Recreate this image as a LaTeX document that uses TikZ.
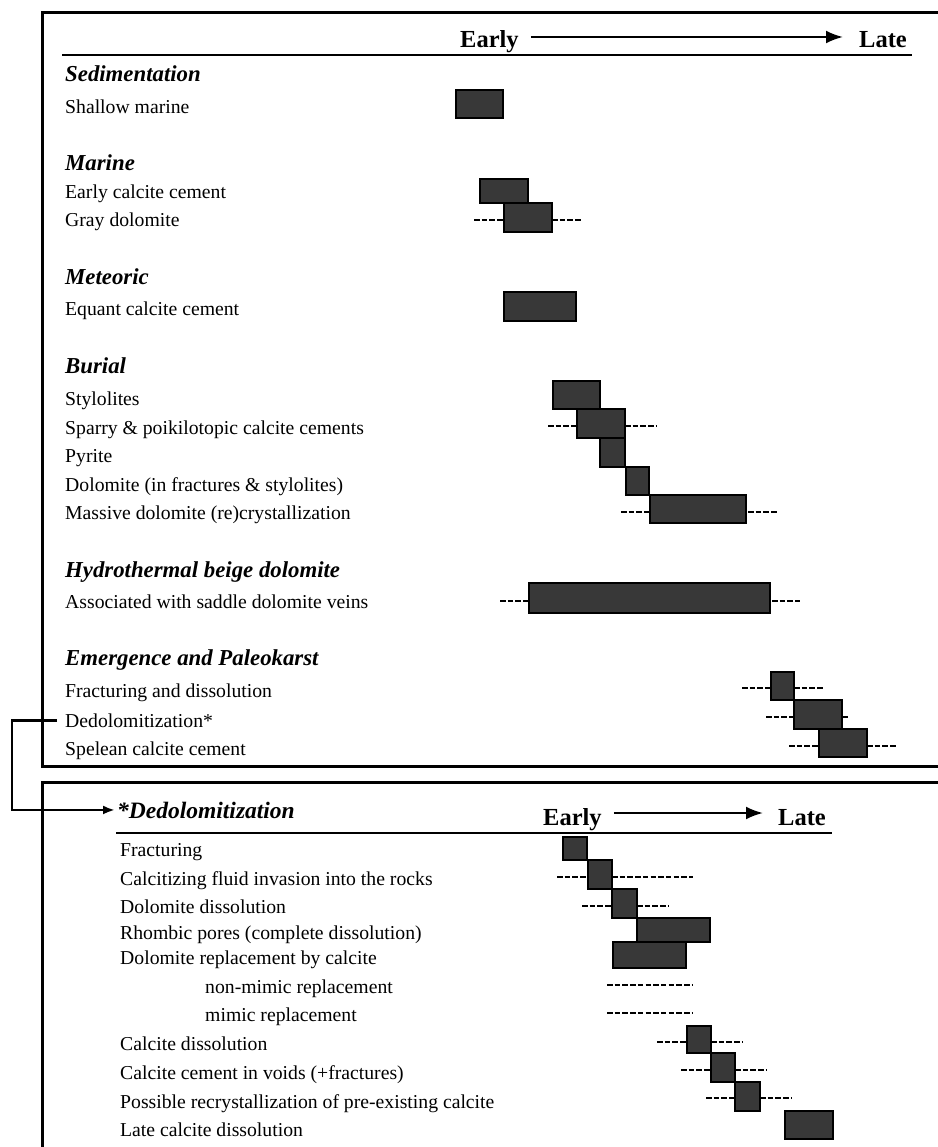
\documentclass[tikz,border=0pt]{standalone}
\usepackage{fontspec}
\setmainfont{Liberation Serif}
\usetikzlibrary{arrows.meta, positioning}
\definecolor{barGray}{RGB}{56,56,56}

\begin{document}
\begin{tikzpicture}[
    x=1pt, y=-1pt,
    lbl/.style      = {anchor=base west, inner sep=0pt,
                       font=\fontsize{19.7}{22}\selectfont},
    head/.style     = {anchor=base west, inner sep=0pt,
                       font=\fontsize{22.8}{26}\selectfont\bfseries\itshape},
    timeword/.style = {anchor=base west, inner sep=0pt,
                       font=\fontsize{24.5}{28}\selectfont\bfseries},
    panel/.style    = {draw=black, line width=3pt},
    rule/.style     = {draw=black, line width=1.4pt},
    phase/.style    = {draw=black, fill=barGray, line width=1.3pt},
    trend/.style    = {draw=black, line width=2.2pt, dash pattern=on 5.5pt off 2.2pt},
    timeflow/.style = {-{Latex[length=17pt,width=13pt]}, line width=2.3pt},
    link/.style     = {-{Latex[length=12pt,width=9pt]}, line width=2.6pt}
]
\useasboundingbox (0,0) rectangle (937,1147);

% Frames of the two panels (they run off the right / bottom edge)
\draw[panel] (42,13) rectangle (980,766);
\draw[panel] (42,782) rectangle (980,1190);

% Time axis of the upper panel
\node[timeword] (early) at (460,48) {Early};
\node[timeword] (late)  at (859,48) {Late};
\draw[timeflow] ([shift={(12,-11)}]early.base east) -- ([shift={(-16,-11)}]late.base west);
\draw[rule] (62,55) -- (912,55);

% Upper panel: stages and events
\node[head] (sed)    at (65,82)  {Sedimentation};
\node[lbl]  (shal)   at (65,114) {Shallow marine};
\node[head] (mar)    at (65,171) {Marine};
\node[lbl]  (ecc)    at (65,199) {Early calcite cement};
\node[lbl]  (gray)   at (65,227) {Gray dolomite};
\node[head] (met)    at (65,284) {Meteoric};
\node[lbl]  (equ)    at (65,316) {Equant calcite cement};
\node[head] (bur)    at (65,373) {Burial};
\node[lbl]  (sty)    at (65,405) {Stylolites};
\node[lbl]  (spar)   at (65,434) {Sparry \& poikilotopic calcite cements};
\node[lbl]  (pyr)    at (65,462) {Pyrite};
\node[lbl]  (dolf)   at (65,491) {Dolomite (in fractures \& stylolites)};
\node[lbl]  (mass)   at (65,519) {Massive dolomite (re)crystallization};
\node[head] (hyd)    at (65,577) {Hydrothermal beige dolomite};
\node[lbl]  (sadd)   at (65,608) {Associated with saddle dolomite veins};
\node[head] (emer)   at (65,665) {Emergence and Paleokarst};
\node[lbl]  (frac)   at (65,697) {Fracturing and dissolution};
\node[lbl]  (dedo)   at (65,727) {Dedolomitization*};
\node[lbl]  (spel)   at (65,755) {Spelean calcite cement};

% Upper panel: bars
\draw[phase] (456,90)  rectangle (503,118);
\draw[phase] (480,179) rectangle (528,203);
\draw[phase] (504,203) rectangle (552,232);
\draw[trend] (474,220) -- (504,220);
\draw[trend] (552,220) -- (582,220);
\draw[phase] (504,292) rectangle (576,321);
\draw[phase] (553,381) rectangle (600,409);
\draw[phase] (577,409) rectangle (625,438);
\draw[trend] (548,426) -- (577,426);
\draw[trend] (625,426) -- (656,426);
\draw[phase] (600,438) rectangle (625,467);
\draw[phase] (626,467) rectangle (649,495);
\draw[phase] (650,495) rectangle (746,523);
\draw[trend] (621,512) -- (650,512);
\draw[trend] (748,512) -- (777,512);
\draw[phase] (529,583) rectangle (770,613);
\draw[trend] (500,601) -- (529,601);
\draw[trend] (772,601) -- (800,601);
\draw[phase] (771,672) rectangle (794,700);
\draw[trend] (742,688) -- (771,688);
\draw[trend] (794,688) -- (824,688);
\draw[phase] (794,700) rectangle (842,729);
\draw[trend] (766,717) -- (794,717);
\draw[trend] (842,717) -- (849,717);
\draw[phase] (819,729) rectangle (867,757);
\draw[trend] (789,746) -- (819,746);
\draw[trend] (867,746) -- (897,746);

% Lower panel: detail of the dedolomitization
\node[head, font=\fontsize{23.5}{26}\selectfont\bfseries\itshape] (dedoHead) at (117,818) {*Dedolomitization};
\node[timeword] (early2) at (543,825) {Early};
\node[timeword] (late2)  at (778,825) {Late};
\draw[timeflow] ([shift={(12,-12)}]early2.base east) -- ([shift={(-15,-12)}]late2.base west);
\draw[rule] (116,833) -- (832,833);

\draw[link] ([xshift=-8pt]dedo.west) -- ++(-45,0) |- ([xshift=-2pt]dedoHead.west);

\node[lbl] (dfrac)  at (120,856)  {Fracturing};
\node[lbl] (dinv)   at (120,885)  {Calcitizing fluid invasion into the rocks};
\node[lbl] (ddis)   at (120,913)  {Dolomite dissolution};
\node[lbl] (drho)   at (120,939)  {Rhombic pores (complete dissolution)};
\node[lbl] (drep)   at (120,964)  {Dolomite replacement by calcite};
\node[lbl] (dnon)   at (205,993)  {non-mimic replacement};
\node[lbl] (dmim)   at (205,1021) {mimic replacement};
\node[lbl] (dcdis)  at (120,1050) {Calcite dissolution};
\node[lbl] (dcem)   at (120,1079) {Calcite cement in voids (+fractures)};
\node[lbl] (drecr)  at (120,1108) {Possible recrystallization of pre-existing calcite};
\node[lbl] (dlate)  at (120,1136) {Late calcite dissolution};

% Lower panel: bars
\draw[phase] (563,837)  rectangle (587,860);
\draw[phase] (588,860)  rectangle (612,889);
\draw[trend] (557,877) -- (588,877);
\draw[trend] (612,877) -- (693,877);
\draw[phase] (612,889)  rectangle (637,918);
\draw[trend] (582,906) -- (612,906);
\draw[trend] (637,906) -- (668,906);
\draw[phase] (637,918)  rectangle (710,942);
\draw[phase] (613,942)  rectangle (686,968);
\draw[trend] (607,985) -- (693,985);
\draw[trend] (607,1013) -- (693,1013);
\draw[phase] (687,1026) rectangle (711,1053);
\draw[trend] (657,1042) -- (687,1042);
\draw[trend] (711,1042) -- (742,1042);
\draw[phase] (711,1053) rectangle (735,1082);
\draw[trend] (681,1070) -- (711,1070);
\draw[trend] (735,1070) -- (767,1070);
\draw[phase] (735,1082) rectangle (760,1111);
\draw[trend] (706,1098) -- (735,1098);
\draw[trend] (760,1098) -- (792,1098);
\draw[phase] (785,1111) rectangle (833,1139);

\end{tikzpicture}
\end{document}
